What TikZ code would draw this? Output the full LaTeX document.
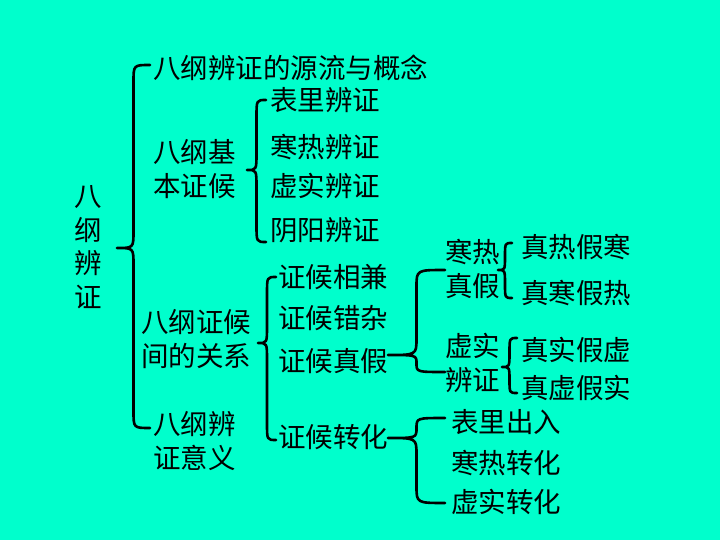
\documentclass[tikz,border=0pt]{standalone}
\usepackage{fontspec}
\newfontfamily\cjk{Noto Sans CJK SC}
\definecolor{bgcol}{RGB}{0,255,204}
\tikzset{
  lbl/.style={anchor=west, inner sep=0pt, align=left, font=\cjk\fontsize{27.5}{33.5}\selectfont},
  bracestyle/.style={line width=2.6pt, line cap=round, line join=round}
}
\newcommand\mybrace[5]{%
  \pgfmathsetmacro\xm{(#1+#3)/2}%
  \pgfmathsetmacro\ra{min(17,(#4-#2)/2)}%
  \pgfmathsetmacro\rb{min(17,(#5-#4)/2)}%
  \pgfmathsetmacro\ya{#2+\ra}%
  \pgfmathsetmacro\yb{#4-\ra}%
  \pgfmathsetmacro\yc{#4+\rb}%
  \pgfmathsetmacro\yd{#5-\rb}%
  \draw[bracestyle] (#1,#2) .. controls (\xm,#2) .. (\xm,\ya) -- (\xm,\yb)
     .. controls (\xm,#4) .. (#3,#4) .. controls (\xm,#4) .. (\xm,\yc)
     -- (\xm,\yd) .. controls (\xm,#5) .. (#1,#5);%
}
\begin{document}
\begin{tikzpicture}[x=1pt,y=-1pt]
\fill[bgcol] (0,0) rectangle (720,540);
\useasboundingbox (0,0) rectangle (720,540);
% root
\node[lbl, anchor=center, align=center] (root) at (88,247) {八\\纲\\辨\\证};
% level 1
\node[lbl] (a1) at (153,68) {八纲辨证的源流与概念};
\node[lbl] (a2) at (153,169) {八纲基\\本证候};
\node[lbl] (a3) at (141,339) {八纲证候\\间的关系};
\node[lbl] (a4) at (153,441) {八纲辨\\证意义};
% level 2
\node[lbl] (b1) at (270,100) {表里辨证};
\node[lbl] (b2) at (270,147) {寒热辨证};
\node[lbl] (b3) at (270,186) {虚实辨证};
\node[lbl] (b4) at (270,230) {阴阳辨证};
\node[lbl] (c1) at (278,277) {证候相兼};
\node[lbl] (c2) at (278,318) {证候错杂};
\node[lbl] (c3) at (278,361) {证候真假};
\node[lbl] (c4) at (278,437) {证候转化};
% level 3
\node[lbl] (d1) at (445,269) {寒热\\真假};
\node[lbl] (d2) at (445,363) {虚实\\辨证};
\node[lbl] (e1) at (521,247) {真热假寒};
\node[lbl] (e2) at (521,293) {真寒假热};
\node[lbl] (e3) at (521,350) {真实假虚};
\node[lbl] (e4) at (521,388) {真虚假实};
\node[lbl] (f1) at (451,422) {表里出入};
\node[lbl] (f2) at (451,463) {寒热转化};
\node[lbl] (f3) at (451,502) {虚实转化};
% braces
\mybrace{150}{65}{117}{248}{428}
\mybrace{266}{100}{247}{170}{242}
\mybrace{276}{277}{258}{343}{440}
\mybrace{445}{270}{388}{355}{372}
\mybrace{512}{243}{498}{270}{298}
\mybrace{517}{338}{502}{367}{393}
\mybrace{445}{418}{388}{438}{503}
\end{tikzpicture}
\end{document}
